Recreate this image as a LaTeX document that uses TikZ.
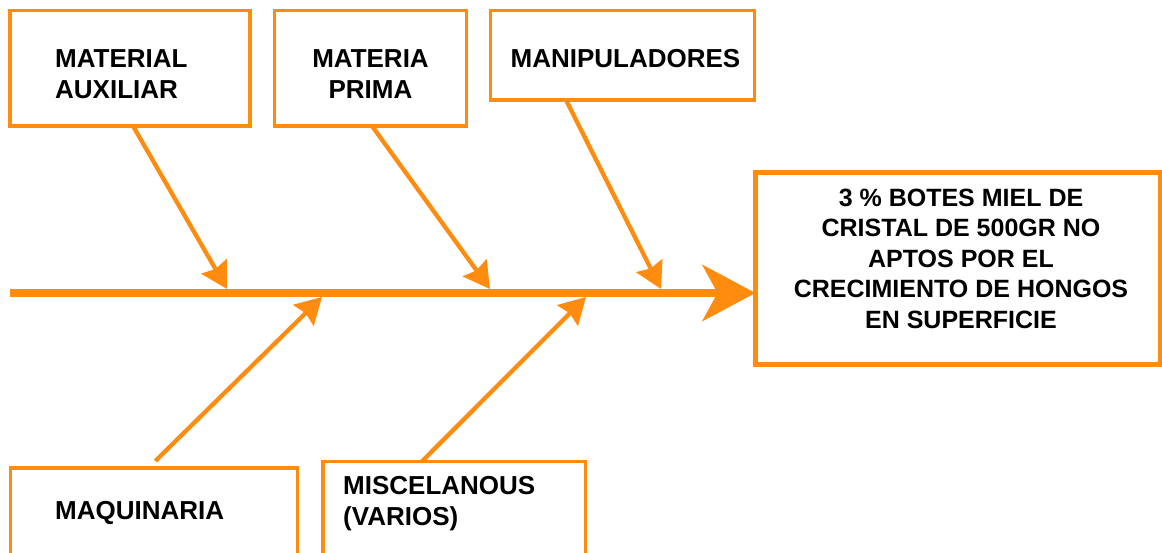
\documentclass[tikz,border=0pt]{standalone}
\usepackage{fontspec}
\setmainfont{Liberation Sans}
\usetikzlibrary{arrows.meta}
\definecolor{fishorange}{RGB}{255,139,15}
\begin{document}
\begin{tikzpicture}[x=1pt,y=-1pt,
  box/.style={draw=fishorange, line width=3.5pt, inner sep=0pt, outer sep=0pt, anchor=north west},
  lbl/.style={font=\bfseries\fontsize{26}{31}\selectfont, inner sep=0pt},
  efflbl/.style={font=\bfseries\fontsize{25}{30.5}\selectfont, inner sep=0pt, align=center, anchor=base},
  bone/.style={draw=fishorange, line width=4.3pt, -{Stealth[length=26pt,width=29pt,inset=3pt]}},
  spinestyle/.style={draw=fishorange, line width=8pt, -{Stealth[length=53pt,width=56pt,inset=15pt]}}]
\useasboundingbox (0,0) rectangle (1162,553);
\clip (0,0) rectangle (1162,553);

% cause boxes
\node[box, minimum width=240pt, minimum height=115.5pt] (aux) at (10,10.5) {};
\node[box, minimum width=192pt, minimum height=115.5pt] (prima) at (274.7,10.5) {};
\node[box, minimum width=264pt, minimum height=89.5pt] (manip) at (490.7,10.5) {};
\node[box, minimum width=287.4pt, minimum height=120pt] (maq) at (10.3,468) {};
\node[box, minimum width=262.7pt, minimum height=120pt] (misc) at (323,461.3) {};

% effect box
\node[box, line width=5pt, minimum width=404.5pt, minimum height=191.3pt] (eff) at (755.5,173) {};

% labels (multi-line labels are placed by the baseline of their last line)
\node[lbl, align=left, anchor=base west] (tAux) at (55,99) {MATERIAL\\AUXILIAR};
\node[lbl, align=center, anchor=base] (tPrima) at (370.5,99) {MATERIA\\PRIMA};
\node[lbl, anchor=base] (tManip) at (625.5,68) {MANIPULADORES};
\node[lbl, anchor=base west] (tMaq) at (55,519) {MAQUINARIA};
\node[lbl, align=left, anchor=base west] (tMisc) at (343,525) {MISCELANOUS\\(VARIOS)};
\node[efflbl] (tEff) at (961,328) {3 \% BOTES MIEL DE\\CRISTAL DE 500GR NO\\APTOS POR EL\\CRECIMIENTO DE HONGOS\\EN SUPERFICIE};

% spine
\coordinate (tail) at (10,293);
\draw[spinestyle] (tail) -- (eff.west |- tail);

% points where the bones meet the spine
\coordinate (j1) at (227,289);
\coordinate (j2) at (490,289);
\coordinate (j3) at (661,289);
\coordinate (j4) at (322,297);
\coordinate (j5) at (586,297);

% bones
\draw[bone] ([xshift=123pt]aux.south west) -- (j1);
\draw[bone] ([xshift=97.3pt]prima.south west) -- (j2);
\draw[bone] ([xshift=75.3pt]manip.south west) -- (j3);
\draw[bone] ([xshift=145pt,yshift=7pt]maq.north west) -- (j4);
\draw[bone] ([xshift=99pt]misc.north west) -- (j5);
\end{tikzpicture}
\end{document}
